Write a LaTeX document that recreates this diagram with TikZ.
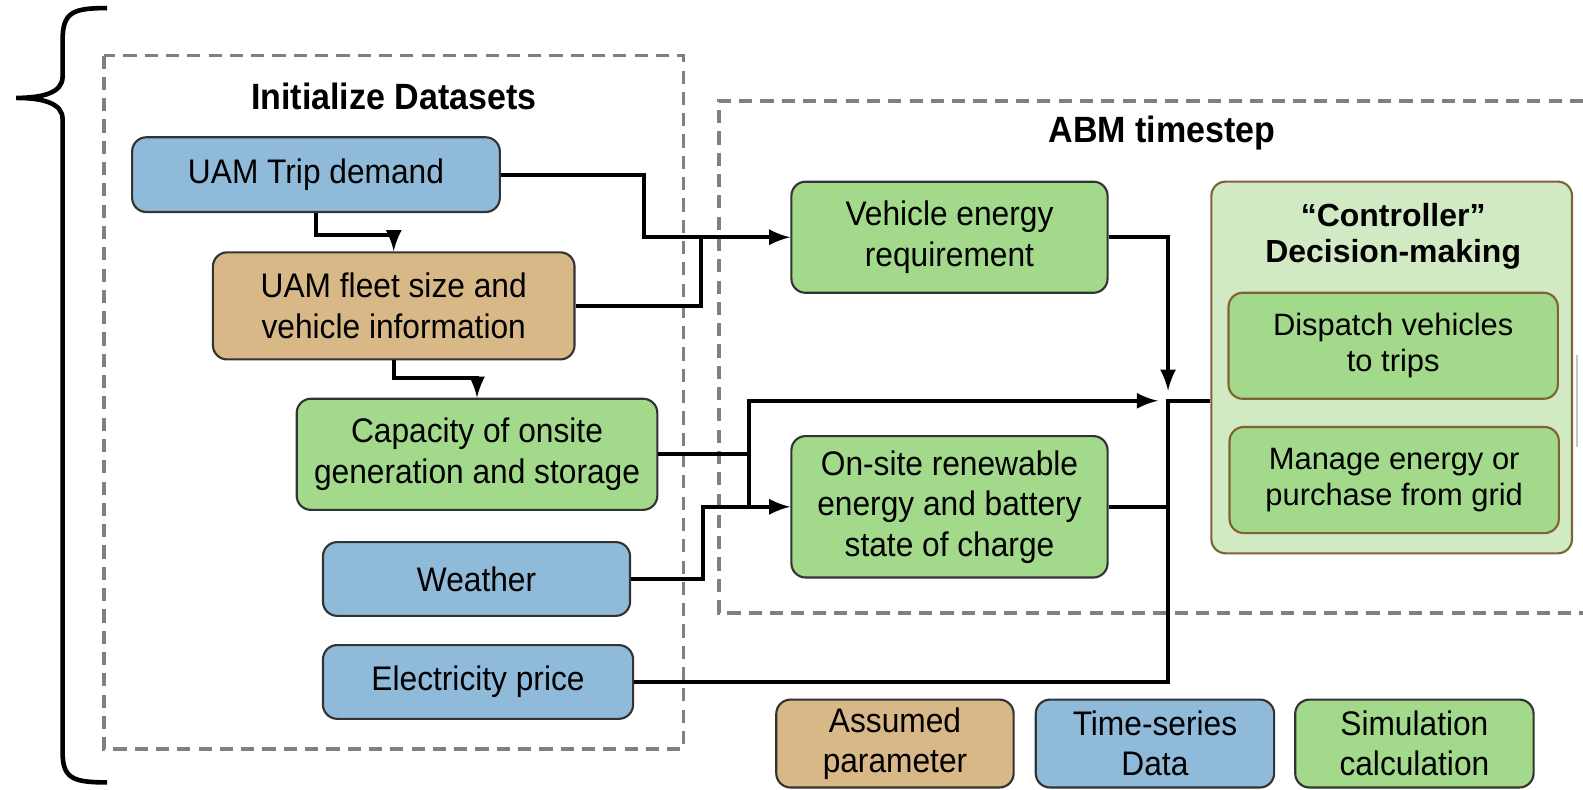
\documentclass[tikz,border=0pt]{standalone}
\usepackage{fontspec}
\setmainfont{Liberation Sans}
\newfontfamily\narrowfont[FakeStretch=0.93]{Liberation Sans}
\definecolor{tsblue}{RGB}{143,186,217}
\definecolor{partan}{RGB}{216,184,134}
\definecolor{simgreen}{RGB}{162,217,138}
\definecolor{ctrlbg}{RGB}{210,234,196}
\definecolor{ctrlbrown}{RGB}{127,99,55}
\definecolor{dashgray}{RGB}{128,128,128}
\begin{document}
\begin{tikzpicture}[>=latex,x=0.01cm,y=-0.01cm,
    box/.style={draw=black!80,line width=0.6pt,rounded corners=4pt,align=center,inner sep=0pt,
      font=\narrowfont\fontsize{9.6pt}{11.4pt}\selectfont},
    blbox/.style={box,fill=tsblue},
    tanbox/.style={box,fill=partan},
    grbox/.style={box,fill=simgreen},
    ctrlbox/.style={box,fill=simgreen,draw=ctrlbrown,font=\fontsize{8.7pt}{10.2pt}\selectfont},
    frame/.style={draw=dashgray,line width=1.05pt,dash pattern=on 3.7pt off 2.3pt},
    title/.style={font=\narrowfont\bfseries\fontsize{10.3pt}{12pt}\selectfont},
    link/.style={line width=1.05pt}]
                \useasboundingbox (0,0) rectangle (1568,782);
                % brace and dashed frames
                \draw[line width=1.3pt] (106,8) .. controls (72,8) and (62,12) .. (62,40) -- (62,76) .. controls (62,92) and (42,97) .. (16,97) .. controls (42,97) and (62,102) .. (62,118) -- (62,745) .. controls (62,771) and (72,775) .. (106,775);
                \draw[frame] (103,55) rectangle (677,742);
                \draw[frame] (1568,100) -- (712,100) -- (712,607) -- (1568,607);
                \draw[gray!45,line width=0.5pt] (1562,352) -- (1562,443);
                \node[title] (init) at (390,96) {Initialize Datasets};
                \node[title] (abm) at (1151,132) {ABM timestep};
                % inputs
                \node[blbox,minimum width=3.64cm,minimum height=0.74cm] (trip) at (313,173) {UAM Trip demand};
                \node[tanbox,minimum width=3.58cm,minimum height=1.06cm] (fleet) at (390,303) {UAM fleet size and\\vehicle information};
                \node[grbox,minimum width=3.57cm,minimum height=1.10cm] (cap) at (472.5,450) {Capacity of onsite\\generation and storage};
                \node[blbox,minimum width=3.04cm,minimum height=0.73cm] (weather) at (472,573.5) {Weather};
                \node[blbox,minimum width=3.07cm,minimum height=0.73cm] (elec) at (473.5,675.5) {Electricity price};
                % timestep
                \node[grbox,minimum width=3.13cm,minimum height=1.10cm] (veh) at (940.5,235) {Vehicle energy\\requirement};
                \node[grbox,minimum width=3.13cm,minimum height=1.40cm] (onsite) at (940.5,502) {On-site renewable\\energy and battery\\state of charge};
                \node[box,fill=ctrlbg,draw=ctrlbrown,minimum width=3.57cm,minimum height=3.68cm] (ctrl) at (1378.5,364) {};
                \node[font=\bfseries\fontsize{9pt}{10.2pt}\selectfont,align=center] (ctrltitle) at (1380,234) {“Controller”\\Decision-making};
                \node[ctrlbox,minimum width=3.26cm,minimum height=1.05cm] (dispatch) at (1380,342.5) {Dispatch vehicles\\to trips};
                \node[ctrlbox,minimum width=3.26cm,minimum height=1.05cm] (manage) at (1381,475.5) {Manage energy or\\purchase from grid};
                % legend
                \node[tanbox,minimum width=2.35cm,minimum height=0.87cm] (lgtan) at (886.5,736.5) {Assumed\\parameter};
                \node[blbox,minimum width=2.36cm,minimum height=0.87cm] (lgblue) at (1144,736.5) {Time-series\\Data};
                \node[grbox,minimum width=2.36cm,minimum height=0.87cm] (lggreen) at (1401,736.5) {Simulation\\calculation};
                \coordinate (J) at (1157,397);
                % connectors
                \draw[link,->] (trip.south) -- ++(0,22) -| (fleet.north);
                \draw[link,->] (fleet.south) -- ++(0,17) -| (cap.north);
                \draw[link,->] (trip.east) -- ++(142,0) |- (veh.west);
                \draw[link] (fleet.east) -| (694,235);
                \draw[link,->] (cap.east) -- (742,450) |- ([xshift=-0.1cm]J);
                \draw[link] (cap.east) -| (742,502);
                \draw[link,->] (weather.east) -- ++(71,0) |- (onsite.west);
                \draw[link,->] (veh.east) -| ([yshift=0.1cm]J);
                \draw[link] (onsite.east) -- (onsite.east -| J);
                \draw[link] (elec.east) -| (J) -- (J -| ctrl.west);
            \end{tikzpicture}
\end{document}
